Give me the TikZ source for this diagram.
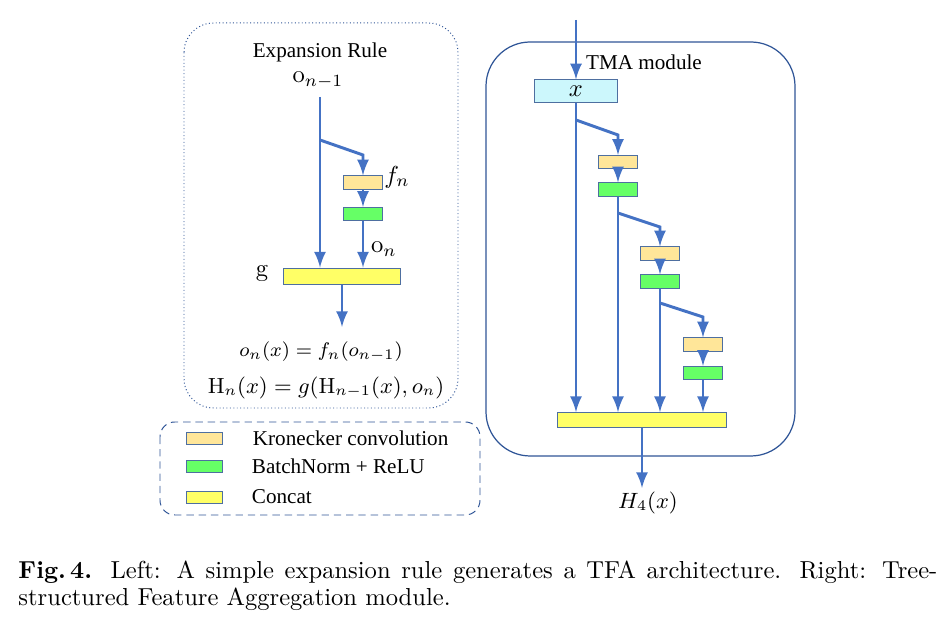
\documentclass[tikz,border=0pt]{standalone}
\usepackage{fontspec}
\usepackage{amsmath}
\usepackage{amssymb}
\usepackage{tikz}
\usetikzlibrary{calc}
\usetikzlibrary{arrows}
\usetikzlibrary{arrows.meta}
\usetikzlibrary{positioning}
\newfontfamily\figfont{Liberation Serif}
\definecolor{flowblue}{HTML}{4472C4}
\definecolor{edgeblue}{HTML}{4E6FA0}
\definecolor{frameblue}{HTML}{2F5597}
\definecolor{kronfill}{HTML}{FFE699}
\definecolor{bnfill}{HTML}{66FF66}
\definecolor{catfill}{HTML}{FFFF66}
\definecolor{xfill}{HTML}{CCF7FC}
\tikzset{>=latex}
\tikzstyle{flow} = [-latex, draw=flowblue, line width=1.2pt]
\tikzstyle{kron} = [rectangle, draw=edgeblue, fill=kronfill, thin, inner sep=0, minimum width=15.5pt, minimum height=5.4pt]
\tikzstyle{bnrelu} = [rectangle, draw=edgeblue, fill=bnfill, thin, inner sep=0, minimum width=15.5pt, minimum height=5.4pt]
\tikzstyle{concat} = [rectangle, draw=edgeblue, fill=catfill, thin, inner sep=0, minimum height=6pt]
\tikzstyle{swatch} = [rectangle, draw=edgeblue, thin, inner sep=0, minimum width=15pt, minimum height=4.5pt]
\tikzstyle{txt} = [draw=none, inner sep=1, font=\figfont\fontsize{8.6}{10}\selectfont]
\tikzstyle{eq} = [draw=none, inner sep=1, font=\fontsize{9}{11}\selectfont]

\begin{document}
\begin{tikzpicture}[x=0.407pt, y=-0.407pt]
\useasboundingbox (0,0) rectangle (951,618);
% expansion rule
\draw [frameblue, densely dotted, rounded corners=12pt] (184,23) rectangle (458,408);
\node [txt] (rule) at (320,52) {Expansion Rule};
\node [eq, font=\fontsize{10}{12}\selectfont] (prev) at (318,80) {$\mathrm{o}_{n-1}$};
\coordinate (top) at (320,97);
\coordinate (split) at (320,140);
\coordinate (bend) at (363,155);
\node [kron] (f) at (363,182.5) {};
\node [bnrelu] (bn) at (363,214) {};
\node [concat, minimum width=48pt, minimum height=6.9pt] (g) at (342,276.5) {};
\coordinate (out) at (342,327);
\draw [flow] (top) -- (top |- g.north);
\draw [flow] (split) -- (bend) -- (f.north);
\draw [flow] (f) -- (bn);
\draw [flow] (bn) -- (bn |- g.north);
\draw [flow] (g) -- (out);
\node [eq, font=\fontsize{10}{12}\selectfont] (fn) at (397,177) {$f_n$};
\node [eq, font=\fontsize{10}{12}\selectfont] (on) at (384,249) {$\mathrm{o}_n$};
\node [eq, font=\fontsize{10}{12}\selectfont] (glab) at (262,273) {$\mathrm{g}$};
\node [eq, font=\fontsize{8.2}{10}\selectfont] (eq1) at (321,352) {$o_n(x) = f_n(o_{n-1})$};
\node [eq, font=\fontsize{8.9}{11}\selectfont] (eq2) at (326,388) {$\mathrm{H}_n(x) = g(\mathrm{H}_{n-1}(x), o_n)$};

% TMA module
\draw [frameblue, line width=0.5pt, rounded corners=18pt] (486,42) rectangle (795,456);
\node [txt] (tma) at (644,62) {TMA module};
\coordinate (in) at (576,20);
\node [rectangle, draw=edgeblue, fill=xfill, thin, inner sep=0, minimum width=34pt, minimum height=9pt] (x) at (576,91) {$x$};
\node [kron] (f1) at (618,162) {};
\node [bnrelu] (bn1) at (618,189.5) {};
\node [kron] (f2) at (660,253.5) {};
\node [bnrelu] (bn2) at (660,281.5) {};
\node [kron] (f3) at (703,344.5) {};
\node [bnrelu] (bn3) at (703,373) {};
\node [concat, minimum width=69pt] (cat) at (642,420) {};
\coordinate (s1) at (576,120);
\coordinate (c1) at (618,135);
\coordinate (s2) at (618,213);
\coordinate (c2) at (660,227);
\coordinate (s3) at (660,303);
\coordinate (c3) at (703,317);
\coordinate (H) at (642,488);
\draw [flow] (in) -- (x);
\draw [flow] (x) -- (x |- cat.north);
\draw [flow] (s1) -- (c1) -- (f1.north);
\draw [flow] (f1) -- (bn1);
\draw [flow] (bn1) -- (bn1 |- cat.north);
\draw [flow] (s2) -- (c2) -- (f2.north);
\draw [flow] (f2) -- (bn2);
\draw [flow] (bn2) -- (bn2 |- cat.north);
\draw [flow] (s3) -- (c3) -- (f3.north);
\draw [flow] (f3) -- (bn3);
\draw [flow] (bn3) -- (bn3 |- cat.north);
\draw [flow] (cat) -- (H);
\node [eq] (Hout) at (648,503) {$H_4(x)$};

% legend
\draw [frameblue, densely dashed, rounded corners=6pt] (160,422) rectangle (480,515);
\node [swatch, fill=kronfill] (lk) at (204.5,438.5) {};
\node [swatch, fill=bnfill] (lb) at (204.5,466.5) {};
\node [swatch, fill=catfill] (lc) at (204.5,497.5) {};
\node [txt, anchor=west] (tk) at (250,438) {Kronecker convolution};
\node [txt, anchor=west] (tb) at (249,466) {BatchNorm + ReLU};
\node [txt, anchor=west] (tc) at (249,497) {Concat};

% caption
\node [anchor=north west, inner sep=0, text width=374pt, align=justify, font=\fontsize{10}{11}\selectfont] (cap) at (18,560) {\textbf{Fig.\,4.} Left: A simple expansion rule generates a TFA architecture. Right: Tree-structured Feature Aggregation module.};
\end{tikzpicture}
\end{document}
